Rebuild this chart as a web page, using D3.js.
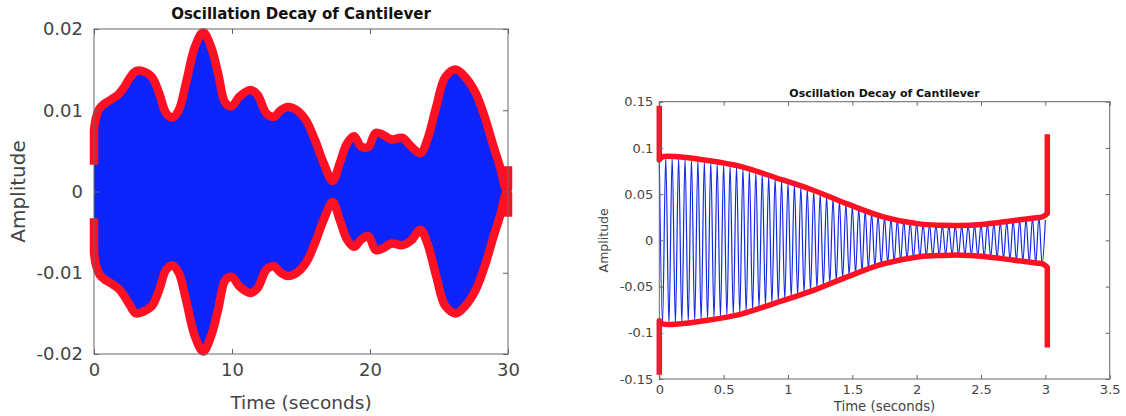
<!DOCTYPE html>
<html>
<head>
<meta charset="utf-8">
<script src="https://cdn.jsdelivr.net/npm/d3@7"></script>
<style>
  html, body { margin: 0; padding: 0; background: #fff; }
  svg { display: block; font-family: "DejaVu Sans", sans-serif; }
</style>
</head>
<body>
<svg id="chart" width="1126" height="416"></svg>
<script>
// ---------------- DATA ----------------
const chartTitle = "Oscillation Decay of Cantilever";
const xLabel = "Time (seconds)";
const yLabel = "Amplitude";

// Left panel: envelope of a dense oscillation
const leftXTicks = [0, 10, 20, 30];
const leftYTicks = [-0.02, -0.01, 0, 0.01, 0.02];
const leftYTickLabels = ["-0.02", "-0.01", "0", "0.01", "0.02"];
const leftT = [0, 0, 0.15, 0.43, 0.75, 1.22, 1.74, 2.13, 2.6, 3.03, 3.55, 4.2, 4.72, 5.24, 5.68, 6.14, 6.66, 7.31, 7.91, 8.48, 9.0, 9.52, 9.98, 10.55, 11.33, 11.85, 12.5, 13.02, 13.53, 14.05, 14.7, 15.35, 16.0, 16.64, 17.29, 17.81, 18.33, 18.85, 19.37, 19.89, 20.4, 20.92, 21.57, 22.35, 23.0, 23.65, 24.16, 24.81, 25.46, 26.24, 26.89, 27.66, 28.31, 28.96, 29.48, 29.85, 30, 30];
const leftUpper = [0.0033, 0.0075, 0.0091, 0.0103, 0.0108, 0.0113, 0.0119, 0.0127, 0.0140, 0.0148, 0.0148, 0.0141, 0.0121, 0.0096, 0.0091, 0.0100, 0.0133, 0.0178, 0.0196, 0.0178, 0.0145, 0.0109, 0.0105, 0.0117, 0.0125, 0.0119, 0.0096, 0.0092, 0.0100, 0.0104, 0.0100, 0.0088, 0.0064, 0.0035, 0.0013, 0.0035, 0.0059, 0.0068, 0.0055, 0.0055, 0.0072, 0.0070, 0.0064, 0.0066, 0.0055, 0.0047, 0.0064, 0.0105, 0.0141, 0.0150, 0.0141, 0.0121, 0.0092, 0.0055, 0.0027, 0.0003, 0.0003, 0.0031];
const leftLower = [-0.0033, -0.0075, -0.0091, -0.0103, -0.0108, -0.0113, -0.0119, -0.0127, -0.0140, -0.0150, -0.0148, -0.0141, -0.0121, -0.0096, -0.0091, -0.0100, -0.0133, -0.0178, -0.0197, -0.0178, -0.0145, -0.0109, -0.0105, -0.0117, -0.0125, -0.0119, -0.0096, -0.0092, -0.0100, -0.0104, -0.0100, -0.0088, -0.0064, -0.0035, -0.0013, -0.0035, -0.0059, -0.0068, -0.0059, -0.0055, -0.0072, -0.0070, -0.0064, -0.0066, -0.0060, -0.0047, -0.0064, -0.0105, -0.0141, -0.0150, -0.0141, -0.0121, -0.0092, -0.0055, -0.0027, -0.0003, -0.0003, -0.0031];

// Right panel: decaying oscillation with its envelope
const rightXTicks = [0, 0.5, 1, 1.5, 2, 2.5, 3, 3.5];
const rightXTickLabels = ["0", "0.5", "1", "1.5", "2", "2.5", "3", "3.5"];
const rightYTicks = [-0.15, -0.1, -0.05, 0, 0.05, 0.1, 0.15];
const rightYTickLabels = ["-0.15", "-0.1", "-0.05", "0", "0.05", "0.1", "0.15"];
const rightEnvT = [0, 0, 0.03, 0.15, 0.35, 0.63, 0.9, 1.18, 1.46, 1.74, 2.02, 2.2, 2.35, 2.5, 2.65, 2.8, 2.93, 2.98, 3.015, 3.015];
const rightUpper = [0.1455, 0.087, 0.0905, 0.0905, 0.087, 0.080, 0.068, 0.055, 0.0395, 0.0255, 0.0178, 0.0163, 0.016, 0.0172, 0.0195, 0.0222, 0.0245, 0.0255, 0.029, 0.1147];
const rightLower = [-0.1455, -0.087, -0.0905, -0.0905, -0.087, -0.080, -0.068, -0.055, -0.0395, -0.0255, -0.0178, -0.0163, -0.016, -0.0172, -0.0195, -0.0222, -0.0245, -0.0255, -0.029, -0.116];
// successive extremes (peaks/troughs) of the oscillation, one every half period
const oscHalfPeriod = 0.025;
const rightOscExtremes = [
  0.088,-0.090,0.0905,-0.0905,0.0905,-0.0905,0.0905,-0.0901,0.0896,-0.0892,
  0.0887,-0.0883,0.0879,-0.0874,0.0870,-0.0864,0.0858,-0.0851,0.0845,-0.0839,
  0.0833,-0.0826,0.0820,-0.0814,0.0808,-0.0801,0.0791,-0.0780,0.0769,-0.0758,
  0.0747,-0.0736,0.0724,-0.0713,0.0702,-0.0691,0.0680,-0.0668,0.0657,-0.0645,
  0.0634,-0.0622,0.0610,-0.0599,0.0587,-0.0576,0.0564,-0.0552,0.0539,-0.0525,
  0.0511,-0.0497,0.0484,-0.0470,0.0456,-0.0442,0.0428,-0.0414,0.0401,-0.0387,
  0.0374,-0.0362,0.0349,-0.0336,0.0323,-0.0310,0.0297,-0.0284,0.0271,-0.0259,
  0.0252,-0.0245,0.0238,-0.0232,0.0225,-0.0218,0.0211,-0.0204,0.0197,-0.0190,
  0.0183,-0.0178,0.0175,-0.0173,0.0171,-0.0169,0.0167,-0.0165,0.0163,-0.0162,
  0.0162,-0.0161,0.0161,-0.0160,0.0160,-0.0162,0.0164,-0.0166,0.0168,-0.0170,
  0.0172,-0.0176,0.0180,-0.0184,0.0187,-0.0191,0.0195,-0.0200,0.0204,-0.0209,
  0.0213,-0.0218,0.0222,-0.0227,0.0233,-0.0238,0.0244,-0.0249,0.0255,-0.0258,
  0.022
];

// ---------------- DRAW ----------------
const svg = d3.select("#chart");
const axisColor = "#666";
const textColor = "#444";
const red = "#ff1022";
const blue = "#0c24fb";

// envelope path: straight first/last segments, smooth middle
function envelopePath(x, y, ts, vs) {
  const n = ts.length;
  const lin = d3.line().x(i => x(ts[i])).y(i => y(vs[i]));
  const smooth = d3.line().curve(d3.curveCatmullRom.alpha(0.5)).x(i => x(ts[i])).y(i => y(vs[i]));
  const head = lin([0, 1]);
  const mid = smooth(d3.range(1, n - 1)).replace(/^M/, "L");
  const tail = lin([n - 2, n - 1]).replace(/^M/, "L");
  return head + mid + tail;
}

function panel(cfg) {
  const g = svg.append("g");
  const x = d3.scaleLinear().domain(cfg.xDomain).range([cfg.left, cfg.right]);
  const y = d3.scaleLinear().domain(cfg.yDomain).range([cfg.bottom, cfg.top]);

  cfg.drawMarks(g, x, y);

  g.append("rect")
    .attr("x", cfg.left).attr("y", cfg.top)
    .attr("width", cfg.right - cfg.left).attr("height", cfg.bottom - cfg.top)
    .attr("fill", "none").attr("stroke", axisColor).attr("stroke-width", 1);

  const styleAxis = sel => {
    sel.select(".domain").remove();
    sel.selectAll("line").attr("stroke", axisColor);
    sel.selectAll("text").attr("fill", textColor).attr("font-size", cfg.tickFont)
      .attr("font-family", "DejaVu Sans, sans-serif");
  };

  g.append("g").attr("transform", `translate(0,${cfg.bottom})`)
    .call(d3.axisBottom(x).tickValues(cfg.xTicks).tickFormat((d, i) => cfg.xTickLabels[i])
      .tickSizeInner(-cfg.tickLen).tickSizeOuter(0).tickPadding(cfg.xPad))
    .call(styleAxis);
  g.append("g").attr("transform", `translate(0,${cfg.top})`)
    .call(d3.axisTop(x).tickValues(cfg.xTicks).tickFormat("")
      .tickSizeInner(-cfg.tickLen).tickSizeOuter(0))
    .call(styleAxis);
  g.append("g").attr("transform", `translate(${cfg.left},0)`)
    .call(d3.axisLeft(y).tickValues(cfg.yTicks).tickFormat((d, i) => cfg.yTickLabels[i])
      .tickSizeInner(-cfg.tickLen).tickSizeOuter(0).tickPadding(cfg.yPad))
    .call(styleAxis);
  g.append("g").attr("transform", `translate(${cfg.right},0)`)
    .call(d3.axisRight(y).tickValues(cfg.yTicks).tickFormat("")
      .tickSizeInner(-cfg.tickLen).tickSizeOuter(0))
    .call(styleAxis);

  g.append("text")
    .attr("x", (cfg.left + cfg.right) / 2).attr("y", cfg.titleY)
    .attr("text-anchor", "middle").attr("font-weight", "bold")
    .attr("font-size", cfg.titleFont).attr("fill", "#111")
    .text(chartTitle);
  g.append("text")
    .attr("x", (cfg.left + cfg.right) / 2).attr("y", cfg.xLabelY)
    .attr("text-anchor", "middle").attr("font-size", cfg.xLabelFont).attr("fill", textColor)
    .text(xLabel);
  g.append("text")
    .attr("transform", `translate(${cfg.yLabelX},${(cfg.top + cfg.bottom) / 2}) rotate(-90)`)
    .attr("text-anchor", "middle").attr("font-size", cfg.yLabelFont).attr("fill", textColor)
    .text(yLabel);
}

// Left panel
panel({
  left: 94, right: 508, top: 29, bottom: 354,
  xDomain: [0, 30], yDomain: [-0.02, 0.02],
  xTicks: leftXTicks, xTickLabels: leftXTicks.map(String),
  yTicks: leftYTicks, yTickLabels: leftYTickLabels,
  tickLen: 5, tickFont: "18px", xPad: 9, yPad: 11,
  titleY: 19, titleFont: "15px",
  xLabelY: 409, xLabelFont: "18.5px",
  yLabelX: 25, yLabelFont: "20px",
  drawMarks: (g, x, y) => {
    const idx = d3.range(1, leftT.length - 1);
    g.append("path")
      .attr("d", d3.area().curve(d3.curveCatmullRom.alpha(0.5))
        .x(i => x(leftT[i])).y0(i => y(leftLower[i])).y1(i => y(leftUpper[i]))(idx))
      .attr("fill", blue).attr("stroke", "none");
    [leftUpper, leftLower].forEach(vals => {
      g.append("path").attr("d", envelopePath(x, y, leftT, vals))
        .attr("fill", "none").attr("stroke", red).attr("stroke-width", 8.5)
        .attr("stroke-linejoin", "round").attr("stroke-linecap", "butt");
    });
  }
});

// Right panel
panel({
  left: 659.3, right: 1109.7, top: 101.7, bottom: 379,
  xDomain: [0, 3.5], yDomain: [-0.15, 0.15],
  xTicks: rightXTicks, xTickLabels: rightXTickLabels,
  yTicks: rightYTicks, yTickLabels: rightYTickLabels,
  tickLen: 4, tickFont: "13px", xPad: 6, yPad: 6,
  titleY: 96.5, titleFont: "11px",
  xLabelY: 411, xLabelFont: "13.3px",
  yLabelX: 608, yLabelFont: "12.5px",
  drawMarks: (g, x, y) => {
    const oi = d3.range(rightOscExtremes.length);
    g.append("path")
      .attr("d", d3.line().curve(d3.curveMonotoneX)
        .x(i => x(i * oscHalfPeriod)).y(i => y(rightOscExtremes[i]))(oi))
      .attr("fill", "none").attr("stroke", "#1429e6").attr("stroke-width", 1.2);
    [rightUpper, rightLower].forEach(vals => {
      g.append("path")
        .attr("d", envelopePath(x, y, rightEnvT, vals))
        .attr("fill", "none").attr("stroke", red).attr("stroke-width", 5.5)
        .attr("stroke-linejoin", "round").attr("stroke-linecap", "butt");
    });
  }
});
</script>
</body>
</html>
